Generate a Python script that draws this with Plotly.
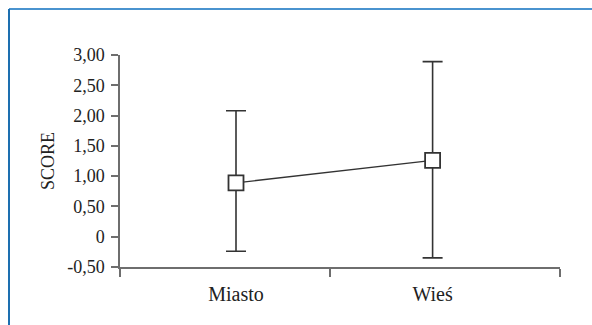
import plotly.graph_objects as go

categories = ["Miasto", "Wieś"]
x_pos = [0, 1]
means = [0.89, 1.26]
upper = [2.08, 2.89]
lower = [-0.24, -0.35]
y_tickvals = [-0.5, 0, 0.5, 1.0, 1.5, 2.0, 2.5, 3.0]
y_ticktext = ["-0,50", "0", "0,50", "1,00", "1,50", "2,00", "2,50", "3,00"]
x_boundaries = [-0.59, 0.476, 1.648]

err_plus = [u - m for u, m in zip(upper, means)]
err_minus = [m - l for m, l in zip(means, lower)]

FONT = "Liberation Serif"
DARK = "#333333"
AXIS = "#6e6e6e"
TXT = "#222222"

fig = go.Figure()
fig.add_trace(go.Scatter(
    x=x_pos, y=means, mode="lines+markers",
    line=dict(color=DARK, width=1.3),
    marker=dict(symbol="square", size=15, color="white",
                line=dict(color=DARK, width=1.8)),
    error_y=dict(type="data", symmetric=False, array=err_plus,
                 arrayminus=err_minus, color=DARK, thickness=1.6, width=10),
    showlegend=False, hoverinfo="skip",
))

L, R, T, B = 120, 32, 55, 58
W, H = 592, 325
pw, ph = W - L - R, H - T - B

def px_x(p):
    return (p - L) / pw

def px_y(p):
    return (H - B - p) / ph

fig.update_layout(
    width=W, height=H,
    margin=dict(l=L, r=R, t=T, b=B),
    paper_bgcolor="white", plot_bgcolor="white",
    font=dict(family=FONT, color=TXT),
    xaxis=dict(
        range=[x_boundaries[0], x_boundaries[-1]],
        tickvals=x_pos, ticktext=categories,
        ticks="outside", ticklen=8, tickcolor="rgba(0,0,0,0)",
        tickfont=dict(size=20, family=FONT, color=TXT),
        showline=True, linecolor=AXIS, linewidth=1.5,
        showgrid=False, zeroline=False,
        minor=dict(tickvals=x_boundaries, ticks="outside", ticklen=8,
                   tickcolor=AXIS, tickwidth=1.5, showgrid=False),
    ),
    yaxis=dict(
        range=[-0.5, 3.0],
        tickvals=y_tickvals, ticktext=y_ticktext,
        ticks="outside", ticklen=7, tickcolor=AXIS, tickwidth=1.5,
        ticklabelstandoff=3,
        tickfont=dict(size=18, family=FONT, color=TXT),
        showline=True, linecolor=AXIS, linewidth=1.5,
        showgrid=False, zeroline=False,
        title=dict(text="SCORE", font=dict(size=18, family=FONT, color=TXT),
                   standoff=8),
    ),
    shapes=[
        dict(type="line", xref="paper", yref="paper",
             x0=px_x(9), x1=px_x(W), y0=px_y(9), y1=px_y(9),
             line=dict(color="#4a93cf", width=2)),
        dict(type="line", xref="paper", yref="paper",
             x0=px_x(9), x1=px_x(9), y0=px_y(9), y1=px_y(H),
             line=dict(color="#1d6fb0", width=2)),
    ],
)

fig.write_html(
    "out.html",
    config={"displayModeBar": False},
    post_script="document.body.style.margin='0';document.body.style.overflow='hidden';",
)
